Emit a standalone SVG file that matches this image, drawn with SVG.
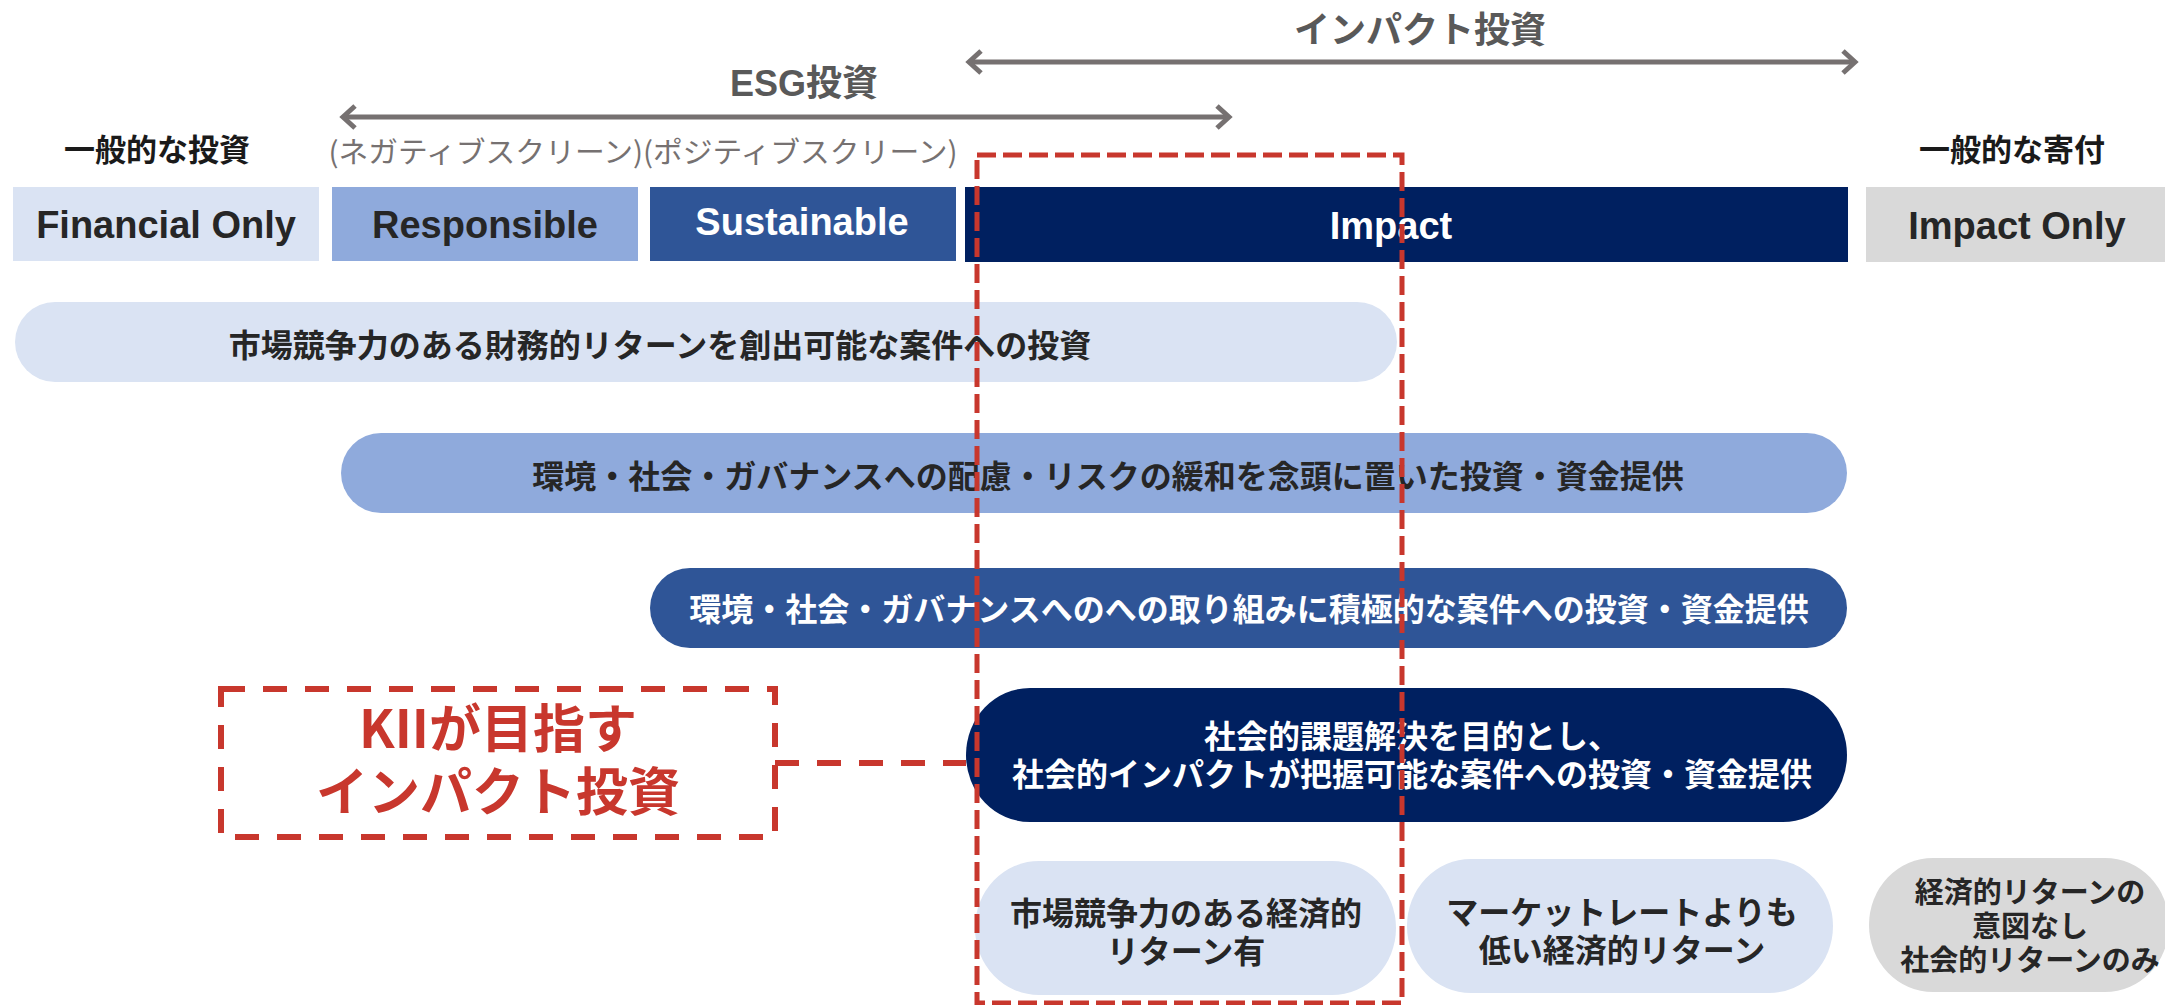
<svg xmlns="http://www.w3.org/2000/svg" width="2165" height="1005" viewBox="0 0 2165 1005">
<style>
.lat{font-family:"Liberation Sans","Noto Sans CJK JP",sans-serif;font-weight:bold;font-size:38px;text-anchor:middle}
.jp{font-family:"Noto Sans CJK JP","Liberation Sans",sans-serif;font-weight:bold;font-size:32px;text-anchor:middle;fill:#262626}
.gray{fill:#595959}
.white{fill:#ffffff}
.dark{fill:#262626}
.arrow{fill:none;stroke:#767171;stroke-width:5}
.red{fill:none;stroke:#C8372D}
</style>
<defs>
<marker id="chev" markerUnits="userSpaceOnUse" markerWidth="30" markerHeight="30" refX="0" refY="0" orient="auto-start-reverse" overflow="visible">
<path d="M-12,-11 L0,0 L-12,11" fill="none" stroke="#767171" stroke-width="5" stroke-linejoin="miter"/>
</marker>
</defs>
<rect width="2165" height="1005" fill="#ffffff"/>

<g id="header-labels">
<text class="jp gray" x="804" y="96" style="font-size:36px"><tspan font-family="Liberation Sans">ESG</tspan>投資</text>
<text class="jp gray" x="1420" y="43" style="font-size:36px">インパクト投資</text>
<text class="jp" x="157" y="161" style="font-size:31px;fill:#1a1a1a">一般的な投資</text>
<text class="jp" x="2012" y="161" style="font-size:31px;fill:#1a1a1a">一般的な寄付</text>
<text class="jp" x="643" y="163" style="font-size:29px;font-weight:normal;fill:#767171" textLength="629" lengthAdjust="spacingAndGlyphs">(ネガティブスクリーン)(ポジティブスクリーン)</text>
</g>

<g id="connectors">
<path class="arrow" d="M343,117 L1229,117" marker-start="url(#chev)" marker-end="url(#chev)"/>
<path class="arrow" d="M969,62 L1855,62" marker-start="url(#chev)" marker-end="url(#chev)"/>
<path class="red" d="M775,763 L966,763" stroke-width="6" stroke-dasharray="24 18"/>
</g>

<g id="node-financial-only">
<rect x="13" y="187" width="306" height="74" fill="#DAE3F3"/>
<text class="lat dark" x="166" y="238">Financial Only</text>
</g>
<g id="node-responsible">
<rect x="332" y="187" width="306" height="74" fill="#8FAADC"/>
<text class="lat dark" x="485" y="238">Responsible</text>
</g>
<g id="node-sustainable">
<rect x="650" y="187" width="306" height="74" fill="#2F5597"/>
<text class="lat white" x="802" y="235">Sustainable</text>
</g>
<g id="node-impact">
<rect x="965" y="187" width="883" height="75" fill="#002060"/>
<text class="lat white" x="1391" y="239">Impact</text>
</g>
<g id="node-impact-only">
<rect x="1866" y="187" width="310" height="75" fill="#D9D9D9"/>
<text class="lat dark" x="2017" y="239">Impact Only</text>
</g>

<g id="node-row1">
<rect x="15" y="302" width="1382" height="80" rx="40" ry="40" fill="#DAE3F3"/>
<text class="jp" x="660" y="357">市場競争力のある財務的リターンを創出可能な案件への投資</text>
</g>
<g id="node-row2">
<rect x="341" y="433" width="1506" height="80" rx="40" ry="40" fill="#8FAADC"/>
<text class="jp" x="1108" y="488">環境・社会・ガバナンスへの配慮・リスクの緩和を念頭に置いた投資・資金提供</text>
</g>
<g id="node-row3">
<rect x="650" y="568" width="1197" height="80" rx="40" ry="40" fill="#2F5597"/>
<text class="jp white" x="1249" y="621">環境・社会・ガバナンスへのへの取り組みに積極的な案件への投資・資金提供</text>
</g>
<g id="node-row4">
<rect x="966" y="688" width="881" height="134" rx="64" ry="67" fill="#002060"/>
<text class="jp white" x="1412" y="748"><tspan x="1412" y="748">社会的課題解決を目的とし、</tspan><tspan x="1412" y="786">社会的インパクトが把握可能な案件への投資・資金提供</tspan></text>
</g>
<g id="node-market-return">
<rect x="975" y="861" width="421" height="134" rx="64" ry="67" fill="#DAE3F3"/>
<text class="jp" x="1186" y="925"><tspan x="1186" y="925">市場競争力のある経済的</tspan><tspan x="1186" y="963">リターン有</tspan></text>
</g>
<g id="node-below-market">
<rect x="1407" y="859" width="426" height="134" rx="64" ry="67" fill="#DAE3F3"/>
<text class="jp" x="1622" y="924"><tspan x="1622" y="924">マーケットレートよりも</tspan><tspan x="1622" y="962">低い経済的リターン</tspan></text>
</g>
<g id="node-social-only">
<rect x="1869" y="858" width="300" height="134" rx="64" ry="67" fill="#D9D9D9"/>
<text class="jp" x="2030" y="903" style="font-size:29px"><tspan x="2030" y="903">経済的リターンの</tspan><tspan x="2030" y="937">意図なし</tspan><tspan x="2030" y="971">社会的リターンのみ</tspan></text>
</g>

<g id="node-kii">
<rect class="red" x="221" y="689" width="554" height="148" stroke-width="6" stroke-dasharray="24 18"/>
<text class="jp" x="498" y="748" style="font-size:52px;fill:#C8372D"><tspan x="498" y="748">KIIが目指す</tspan><tspan x="498" y="811">インパクト投資</tspan></text>
</g>

<g id="node-kii-focus">
<rect class="red" x="977" y="155" width="425" height="848" stroke-width="5" stroke-dasharray="19 7"/>
</g>
</svg>
